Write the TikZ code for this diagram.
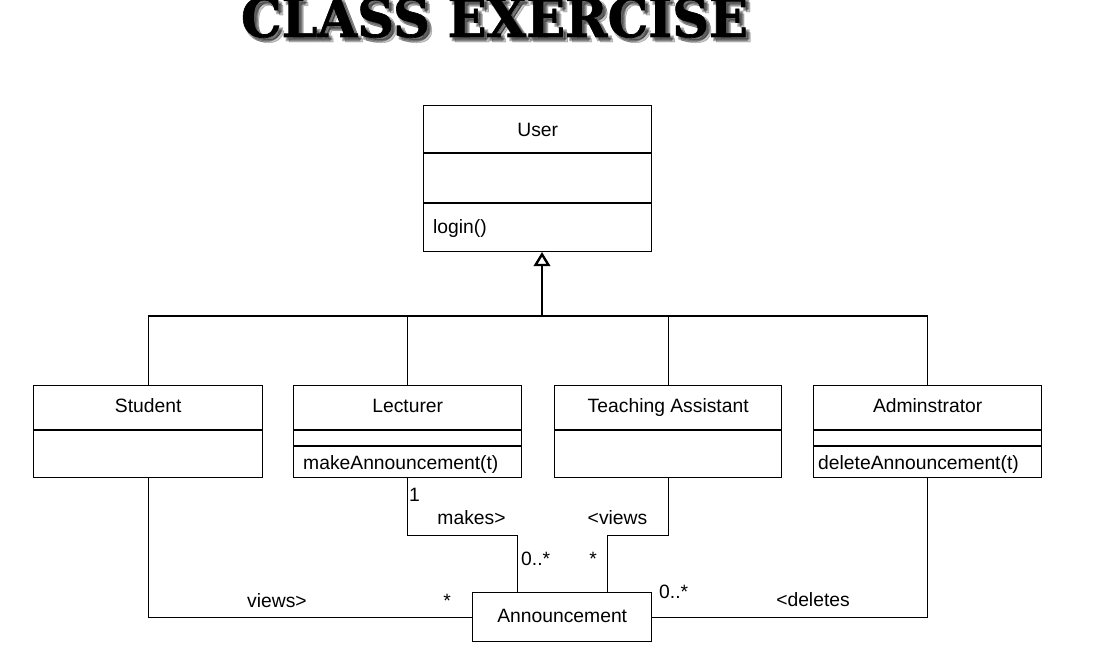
\documentclass[tikz,border=0pt]{standalone}
\usepackage{fontspec}
\usepackage{graphicx}
\setmainfont{Liberation Sans}
\newfontfamily\titlefont{DejaVu Serif}[BoldFeatures={FakeBold=1.2}]
\usetikzlibrary{arrows.meta}

\begin{document}
\begin{tikzpicture}[x=1pt,y=-1pt,
  umlbox/.style={draw, line width=1.4pt, inner sep=0pt, anchor=north west, fill=white},
  divline/.style={line width=1.4pt},
  wire/.style={line width=1.4pt},
  txt/.style={inner sep=0pt, font=\fontsize{19.3}{23}\selectfont},
  ttl/.style={inner sep=0pt, anchor=base, font=\titlefont\bfseries},
  shade/.style={ttl, text=black, opacity=0.22}
]
\useasboundingbox (0,0) rectangle (1110,660);

% ---------- title with a soft drop shadow ----------
\newcommand\titletext{\resizebox{507pt}{40pt}{CLASS EXERCISE}}
\foreach \dx/\dy [count=\i] in {3/3,5/5,4/2,2/4}{
  \node[shade] (tshadow\i) at (494.5+\dx,37+\dy) {\titletext};
}
\node[ttl] (title) at (494.5,37) {\titletext};

% ---------- classes ----------
\node[umlbox, minimum width=228pt, minimum height=146pt] (user) at (423,105) {};
\draw[divline] ([yshift=-48pt]user.north west) -- ([yshift=-48pt]user.north east);
\draw[divline] ([yshift=-98pt]user.north west) -- ([yshift=-98pt]user.north east);
\node[txt, anchor=base] (userName) at ([yshift=-32pt]user.north) {User};
\node[txt, anchor=base west] (userOp) at ([xshift=10pt,yshift=-129pt]user.north west) {login()};

\node[umlbox, minimum width=229pt, minimum height=92pt] (student) at (33,385) {};
\draw[divline] ([yshift=-45pt]student.north west) -- ([yshift=-45pt]student.north east);
\node[txt, anchor=base] (studentName) at ([yshift=-27pt]student.north) {Student};

\node[umlbox, minimum width=228pt, minimum height=92pt] (lect) at (293,385) {};
\draw[divline] ([yshift=-45pt]lect.north west) -- ([yshift=-45pt]lect.north east);
\draw[divline] ([yshift=-61pt]lect.north west) -- ([yshift=-61pt]lect.north east);
\node[txt, anchor=base] (lectName) at ([yshift=-27pt]lect.north) {Lecturer};
\node[txt, anchor=base west] (lectOp) at ([xshift=10pt,yshift=-84pt]lect.north west) {makeAnnouncement(t)};

\node[umlbox, minimum width=227pt, minimum height=92pt] (ta) at (554,385) {};
\draw[divline] ([yshift=-45pt]ta.north west) -- ([yshift=-45pt]ta.north east);
\node[txt, anchor=base] (taName) at ([yshift=-27pt]ta.north) {Teaching Assistant};

\node[umlbox, minimum width=228pt, minimum height=92pt] (admin) at (813,385) {};
\draw[divline] ([yshift=-45pt]admin.north west) -- ([yshift=-45pt]admin.north east);
\draw[divline] ([yshift=-61pt]admin.north west) -- ([yshift=-61pt]admin.north east);
\node[txt, anchor=base] (adminName) at ([yshift=-27pt]admin.north) {Adminstrator};
\node[txt, anchor=base west] (adminOp) at ([xshift=5pt,yshift=-84pt]admin.north west) {deleteAnnouncement(t)};

\node[umlbox, minimum width=179pt, minimum height=49pt] (ann) at (472,592) {};
\node[txt, anchor=base] (annName) at ([yshift=-30pt]ann.north) {Announcement};

% ---------- generalization ----------
\coordinate (bus) at (542,316);
\coordinate (tipbase) at (542,265);
\draw[wire] (student.north) -- (student.north |- bus) -- (admin.north |- bus) -- (admin.north);
\draw[wire] (lect.north) -- (lect.north |- bus);
\draw[wire] (ta.north) -- (ta.north |- bus);
\draw[line width=2.6pt] (bus) -- (tipbase);
% hollow triangle head touching the User box
\draw[line width=2.4pt, line join=miter, fill=white]
  ([yshift=-2pt]tipbase |- user.south) -- ([xshift=-6.5pt]tipbase) -- ([xshift=6.5pt]tipbase) -- cycle;

% ---------- associations ----------
\draw[wire] (student.south) |- (ann.west);
\draw[wire] (lect.south) -- ++(0,57) -| ([xshift=-44.5pt]ann.north);
\draw[wire] (ta.south) -- ++(0,57) -| ([xshift=45.5pt]ann.north);
\draw[wire] (admin.south) |- (ann.east);

% ---------- association labels ----------
\node[txt, anchor=base] (lViews) at (277,607) {views>};
\node[txt, anchor=base] (mStudent) at (447,607) {*};
\node[txt, anchor=base west] (mLect) at (409,501) {1};
\node[txt, anchor=base] (lMakes) at (471.5,524) {makes>};
\node[txt, anchor=base west] (mAnnL) at (521,565) {0..*};
\node[txt, anchor=base] (mTa) at (593,565) {*};
\node[txt, anchor=base] (lViewsTa) at (617.5,524) {<views};
\node[txt, anchor=base west] (mAnnR) at (659,598) {0..*};
\node[txt, anchor=base] (lDeletes) at (813,606) {<deletes};
\end{tikzpicture}
\end{document}
